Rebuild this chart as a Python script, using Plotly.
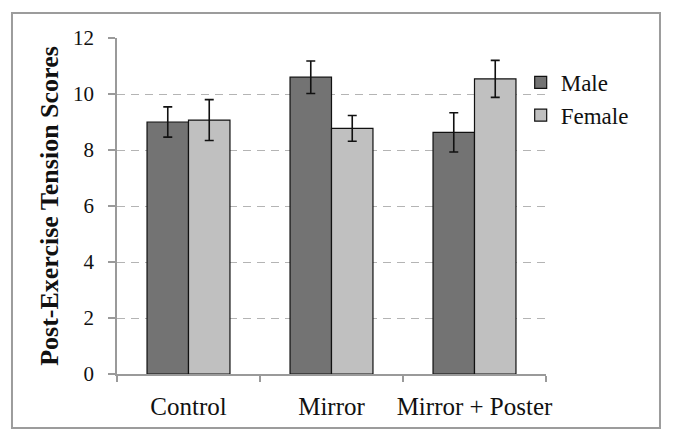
import plotly.graph_objects as go

categories = ["Control", "Mirror", "Mirror + Poster"]
male_values = [9.0, 10.6, 8.63]
male_errors = [0.54, 0.58, 0.70]
female_values = [9.07, 8.77, 10.54]
female_errors = [0.73, 0.46, 0.66]
y_ticks = [0, 2, 4, 6, 8, 10, 12]

FONT = "Liberation Serif"

fig = go.Figure()
fig.add_trace(go.Bar(
    name="Male", x=categories, y=male_values,
    marker=dict(color="#737373", line=dict(color="#111111", width=1.2)),
    error_y=dict(type="data", array=male_errors, visible=True,
                 color="#111111", thickness=1.6, width=4.5),
))
fig.add_trace(go.Bar(
    name="Female", x=categories, y=female_values,
    marker=dict(color="#c0c0c0", line=dict(color="#111111", width=1.2)),
    error_y=dict(type="data", array=female_errors, visible=True,
                 color="#111111", thickness=1.6, width=4.5),
))

# page body has an 8px margin, so the figure is drawn 8px lower/right
fig.update_layout(
    width=665, height=433,
    margin=dict(l=109, r=127, t=30, b=67, autoexpand=False),
    paper_bgcolor="white", plot_bgcolor="white",
    barmode="group", bargap=0.42, bargroupgap=0,
    font=dict(family=FONT, color="#111111"),
    showlegend=True,
    legend=dict(
        x=0.941, y=0.932, xanchor="left", yanchor="top",
        font=dict(family=FONT, size=23, color="#111111"),
        itemwidth=30, tracegroupgap=0, bgcolor="rgba(0,0,0,0)",
        itemclick=False,
    ),
)

fig.update_xaxes(
    type="category", tickangle=0,
    showline=True, linecolor="#9a9a9a", linewidth=1.5,
    ticks="outside", tickson="boundaries", ticklen=6, tickcolor="#9a9a9a", tickwidth=1.5,
    ticklabelstandoff=9,
    tickfont=dict(family=FONT, size=25, color="#111111"),
    showgrid=False, zeroline=False,
)
fig.update_yaxes(
    range=[0, 12], tickvals=y_ticks, ticktext=[str(v) for v in y_ticks],
    showline=True, linecolor="#9a9a9a", linewidth=1.5,
    ticks="outside", ticklen=7, tickcolor="#9a9a9a", tickwidth=1.5,
    ticklabelstandoff=10,
    tickfont=dict(family=FONT, size=21, color="#111111"),
    showgrid=True, gridcolor="#b4b4b4", gridwidth=1.1, griddash="8px,6px",
    zeroline=False,
    title=dict(text="<b>Post-Exercise Tension Scores</b>",
               font=dict(family=FONT, size=26, color="#111111"), standoff=7),
)

fig.add_shape(
    type="rect", xref="paper", yref="paper",
    x0=-0.2448, x1=1.2657, y0=-0.1607, y1=1.0744,
    line=dict(color="#9c9c9c", width=2), fillcolor="rgba(0,0,0,0)", layer="below",
)

fig.write_html("out.html")
